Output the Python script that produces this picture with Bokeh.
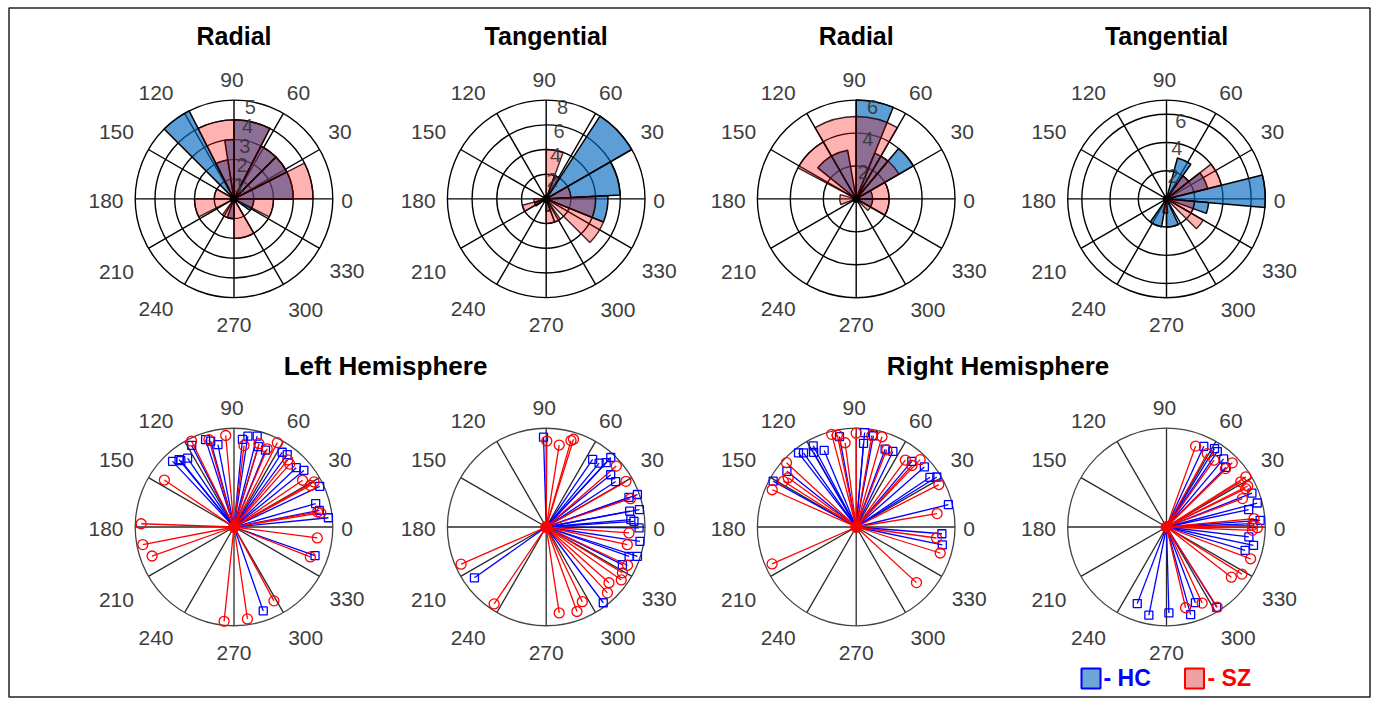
import numpy as np
from bokeh.plotting import figure
from bokeh.models import Range1d
from bokeh.embed import file_html
from bokeh.resources import INLINE
from bokeh.core.properties import value

# ---------------- data ----------------
top_titles = ["Radial", "Tangential", "Radial", "Tangential"]
bottom_titles = ["Left Hemisphere", "Right Hemisphere"]
spoke_angles = [0, 30, 60, 90, 120, 150, 180, 210, 240, 270, 300, 330]
angle_labels = [str(a) for a in spoke_angles]

# top row: rose histograms (bin start deg, bin end deg, count)
p1_rmax, p1_ticks = 5, [1, 2, 3, 4, 5]
p1_hc_lo = [117, 99, 90, 63, 45, 27, 0, 324, 250]
p1_hc_hi = [135, 117, 99, 90, 63, 45, 27, 360, 270]
p1_hc_n = [5, 2, 3, 4, 3, 3, 3, 1, 1]
p1_sz_lo = [0, 27, 45, 63, 90, 150, 180, 234, 270, 333]
p1_sz_hi = [27, 45, 63, 90, 117, 180, 207, 270, 300, 360]
p1_sz_n = [4, 3, 3, 4, 4, 1, 2, 1, 2, 2]

p2_rmax, p2_ticks = 8, [2, 4, 6, 8]
p2_hc_lo = [30, 3, -22, 57, 200, 270]
p2_hc_hi = [57, 30, 3, 70, 215, 290]
p2_hc_n = [8, 6, 5, 2, 1, 1]
p2_sz_lo = [3, -22, -45, 70, 57, 195, 180, 270, 290]
p2_sz_hi = [30, 3, -22, 90, 70, 210, 195, 290, 305]
p2_sz_n = [2, 4, 5, 4, 2, 2, 1, 2, 2]

p3_rmax, p3_ticks = 6, [2, 4, 6]
p3_hc_lo = [68, 30, 50, 100, 0, -30]
p3_hc_hi = [90, 50, 68, 141, 30, 0]
p3_hc_n = [6, 4, 3, 3, 1, 1]
p3_sz_lo = [60, 90, 120, 30, 50, 0, -29, 165, -45]
p3_sz_hi = [90, 120, 152, 50, 60, 30, 0, 200, -29]
p3_sz_n = [5, 5, 4, 3, 3, 2, 2, 1, 1]

p4_rmax, p4_ticks = 7, [2, 4, 6]
p4_hc_lo = [-5, -20, 55, 235, 270, 14, 38]
p4_hc_hi = [14, -5, 75, 260, 295, 38, 55]
p4_hc_n = [7, 3, 3, 2, 2, 3, 2]
p4_sz_lo = [14, 38, -45, -30, 255]
p4_sz_hi = [38, 55, -30, -5, 275]
p4_sz_n = [4, 2, 3, 2, 1]

# bottom row: individual vectors (angle deg, normalised magnitude)
p5_hc_ang = [133.1, 129.2, 128.7, 124, 117.4, 108, 105.2, 101, 84.5, 81.3, 75.7, 73.1, 67.7, 57.2,
             53.7, 43.6, 39, 25.4, 16, 11, 5.6, 340.5, 289.2]
p5_hc_mag = [0.91, 0.88, 0.86, 0.84, 0.93, 0.93, 0.90, 0.85, 0.89, 0.93, 0.95, 0.85, 0.84, 0.90,
             0.91, 0.87, 0.91, 0.96, 0.86, 0.88, 0.96, 0.87, 0.90]
p5_sz_ang = [146, 116.3, 106, 95.2, 83, 73.3, 67, 62.8, 51.3, 48.5, 34.3, 28.5, 29.4, 10.2, 352.5,
             338.6, 178, 190.9, 199.5, 298.4, 278.3, 264, 9.2]
p5_sz_mag = [0.85, 0.97, 0.92, 0.93, 0.83, 0.88, 0.86, 0.96, 0.87, 0.85, 0.84, 0.88, 0.93, 0.86, 0.85,
             0.83, 0.94, 0.94, 0.88, 0.85, 0.94, 0.96, 0.89]

p6_hc_ang = [91.7, 55.5, 50.4, 47, 47.1, 39, 33.2, 19.7, 19.6, 10.7, 10.6, 5, 359.4, 351.3, 340.5,
             342.2, 333.7, 307, 215.3, 3.7]
p6_hc_mag = [0.91, 0.83, 0.84, 0.89, 0.96, 0.84, 0.84, 0.89, 0.98, 0.86, 0.96, 0.86, 0.94, 0.96, 0.89,
             0.97, 0.86, 0.96, 0.89, 0.89]
p6_sz_ang = [89.6, 81, 74, 72.7, 41, 29.8, 18.6, 355.9, 334.8, 324.8, 318.4, 312.9, 295.8, 290,
             278.6, 235.9, 203.6, 329, 347.7]
p6_sz_mag = [0.87, 0.84, 0.91, 0.93, 0.94, 0.93, 0.90, 0.84, 0.91, 0.93, 0.85, 0.91, 0.84, 0.91,
             0.88, 0.94, 0.94, 0.90, 0.84]

p7_hc_ang = [151.1, 141.2, 127.9, 125.4, 117.9, 119.7, 112.7, 100.5, 84.9, 85, 79.3, 69.6, 64.1,
             49.7, 41.4, 34, 31.8, 13.6, 355.5, 348.3]
p7_hc_mag = [0.96, 0.90, 0.95, 0.92, 0.93, 0.87, 0.84, 0.93, 0.96, 0.85, 0.94, 0.84, 0.85,
             0.87, 0.92, 0.90, 0.96, 0.96, 0.87, 0.89]
p7_sz_ang = [156.1, 147.9, 137.3, 144.1, 104.8, 101.6, 97.5, 90, 80.3, 74.1, 68.4, 53.7, 46.5,
             47.8, 27.2, 9.4, 352.2, 342.8, 317.3, 203.7]
p7_sz_mag = [0.93, 0.87, 0.96, 0.85, 0.97, 0.95, 0.86, 0.95, 0.94, 0.95, 0.84, 0.84, 0.94,
             0.84, 0.94, 0.83, 0.82, 0.89, 0.83, 0.93]

p8_hc_ang = [65.2, 58.5, 56, 50, 45.2, 21.6, 14.8, 11.9, 4.1, 2.2, 353.1, 348.1, 343.5, 302,
             290.9, 285.4, 271.6, 258.7, 249.1]
p8_hc_mag = [0.90, 0.93, 0.92, 0.90, 0.85, 0.93, 0.95, 0.85, 0.95, 0.88, 0.84, 0.90, 0.83, 0.96,
             0.82, 0.92, 0.87, 0.91, 0.83]
p8_sz_ang = [70.2, 61, 54.6, 44.7, 44.3, 32.3, 31.3, 26.8, 20.5, 1.1, 359.6, 339.3, 322.3, 328,
             302.3, 295.1, 283.3, 25.9, 5.5, 357.8]
p8_sz_mag = [0.87, 0.85, 0.83, 0.84, 0.93, 0.95, 0.88, 0.92, 0.82, 0.87, 0.92, 0.91, 0.83, 0.90,
             0.96, 0.85, 0.84, 0.89, 0.89, 0.87]

legend_labels = ["- HC", "- SZ"]

# ---------------- layout / style ----------------
W, H = 1378, 703
CX = [233.5, 545.7, 855.7, 1166.0]
CY_TOP, CY_BOT = 198.4, 526.5
R = 98.8
FONT = value("Liberation Sans")
HC_FILL, HC_ALPHA = "#0068BE", 0.64
SZ_FILL, SZ_ALPHA = "#FF0000", 0.30
# text centre offsets of the angle labels (page pixels, y downwards)
LABEL_DX = [113, 106, 64.5, -2, -78, -117.6, -128, -117.6, -78, 0, 71.7, 113]
LABEL_DY = [2, -67, -106, -119, -106, -67, 2, 73, 110.5, 126, 111, 72]


def X(px):
    return px


def Y(py):
    return H - py


p = figure(width=W, height=H, x_range=Range1d(0, W), y_range=Range1d(0, H),
           output_backend="svg", toolbar_location=None, min_border=0,
           x_axis_location=None, y_axis_location=None)
p.grid.visible = False
p.outline_line_color = None
p.background_fill_color = "white"
p.border_fill_color = "white"

# frame around the whole picture
p.quad(left=[X(8.5)], right=[X(1369.5)], top=[Y(7.5)], bottom=[Y(696.5)],
       fill_color=None, line_color="#222222", line_width=1.5)

rad = np.deg2rad(spoke_angles)


def draw_grid(cx, cy, rings, color, width):
    x0 = [cx] * len(rad)
    y0 = [cy] * len(rad)
    p.segment(x0=x0, y0=y0, x1=list(cx + R * np.cos(rad)), y1=list(cy + R * np.sin(rad)),
              line_color=color, line_width=width)
    p.circle(x=[cx] * len(rings), y=[cy] * len(rings), radius=rings,
             fill_color=None, line_color=color, line_width=width)


def draw_angle_labels(cx, cy):
    xs = [cx + dx for dx in LABEL_DX]
    ys = [cy - dy for dy in LABEL_DY]
    p.text(x=xs, y=ys, text=angle_labels, text_font=FONT, text_font_size="21px",
           text_align="center", text_baseline="middle", text_color="#3d3d3d")


top_data = [
    (p1_rmax, p1_ticks, p1_hc_lo, p1_hc_hi, p1_hc_n, p1_sz_lo, p1_sz_hi, p1_sz_n),
    (p2_rmax, p2_ticks, p2_hc_lo, p2_hc_hi, p2_hc_n, p2_sz_lo, p2_sz_hi, p2_sz_n),
    (p3_rmax, p3_ticks, p3_hc_lo, p3_hc_hi, p3_hc_n, p3_sz_lo, p3_sz_hi, p3_sz_n),
    (p4_rmax, p4_ticks, p4_hc_lo, p4_hc_hi, p4_hc_n, p4_sz_lo, p4_sz_hi, p4_sz_n),
]

for i, (rmax, ticks, hlo, hhi, hn, slo, shi, sn) in enumerate(top_data):
    cx, cy = X(CX[i]), Y(CY_TOP)
    scale = R / rmax
    rings = [t * scale for t in ticks]
    if ticks[-1] != rmax:
        rings.append(R)
    draw_grid(cx, cy, rings, "black", 1.4)
    p.wedge(x=[cx] * len(hn), y=[cy] * len(hn), radius=[n * scale for n in hn],
            start_angle=hlo, end_angle=hhi, start_angle_units="deg", end_angle_units="deg",
            fill_color=HC_FILL, fill_alpha=HC_ALPHA, line_color="black", line_width=1.5)
    p.wedge(x=[cx] * len(sn), y=[cy] * len(sn), radius=[n * scale for n in sn],
            start_angle=slo, end_angle=shi, start_angle_units="deg", end_angle_units="deg",
            fill_color=SZ_FILL, fill_alpha=SZ_ALPHA, line_color="#200000", line_alpha=0.85,
            line_width=1.4)
    p.circle(x=[cx], y=[cy], radius=3.5, fill_color="black", line_color="black")
    a82 = np.deg2rad(82)
    p.text(x=[cx + r * np.cos(a82) - 3 for r in [t * scale for t in ticks]],
           y=[cy + r * np.sin(a82) - 5.5 for r in [t * scale for t in ticks]],
           text=[str(t) for t in ticks], text_font=FONT, text_font_size="20px",
           text_align="left", text_baseline="middle", text_color="#333333", text_alpha=0.9)
    draw_angle_labels(cx, cy)
    p.text(x=[cx], y=[Y(35.5)], text=[top_titles[i]], text_font=FONT, text_font_size="25px",
           text_font_style="bold", text_align="center", text_baseline="middle", text_color="black")

bottom_data = [
    (p5_hc_ang, p5_hc_mag, p5_sz_ang, p5_sz_mag),
    (p6_hc_ang, p6_hc_mag, p6_sz_ang, p6_sz_mag),
    (p7_hc_ang, p7_hc_mag, p7_sz_ang, p7_sz_mag),
    (p8_hc_ang, p8_hc_mag, p8_sz_ang, p8_sz_mag),
]

for i, (ha, hm, sa, sm) in enumerate(bottom_data):
    cx, cy = X(CX[i]), Y(CY_BOT)
    x0 = [cx] * len(rad)
    y0 = [cy] * len(rad)
    p.segment(x0=x0, y0=y0, x1=list(cx + R * np.cos(rad)), y1=list(cy + R * np.sin(rad)),
              line_color="#2a2a2a", line_width=1.3)
    p.circle(x=[cx], y=[cy], radius=R, fill_color=None, line_color="#444444", line_width=1.3)
    hr = np.deg2rad(ha)
    sr = np.deg2rad(sa)
    hx = list(cx + np.array(hm) * R * np.cos(hr))
    hy = list(cy + np.array(hm) * R * np.sin(hr))
    sx = list(cx + np.array(sm) * R * np.cos(sr))
    sy = list(cy + np.array(sm) * R * np.sin(sr))
    p.segment(x0=[cx] * len(hx), y0=[cy] * len(hx), x1=hx, y1=hy, line_color="#0000FF", line_width=1.3)
    p.segment(x0=[cx] * len(sx), y0=[cy] * len(sx), x1=sx, y1=sy, line_color="#FF0000", line_width=1.3)
    p.scatter(x=hx, y=hy, marker="square", size=8, fill_color=None, line_color="#0000FF", line_width=1.3)
    p.scatter(x=sx, y=sy, marker="circle", size=10, fill_color=None, line_color="#FF0000", line_width=1.3)
    p.circle(x=[cx], y=[cy], radius=5.5, fill_color="#FF0000", line_color="#FF0000")
    draw_angle_labels(cx, cy)

p.text(x=[X(385), X(997.5)], y=[Y(365), Y(365)], text=bottom_titles, text_font=FONT,
       text_font_size="26px", text_font_style="bold", text_align="center",
       text_baseline="middle", text_color="black")

# legend
p.rect(x=[X(1090.5)], y=[Y(678)], width=19, height=20, fill_color="#6FA6DA",
       line_color="#0000FF", line_width=2)
p.rect(x=[X(1194)], y=[Y(678)], width=19, height=20, fill_color="#F0A0A0",
       line_color="#FF0000", line_width=2)
p.text(x=[X(1103)], y=[Y(677)], text=[legend_labels[0]], text_font=FONT, text_font_size="23px",
       text_font_style="bold", text_align="left", text_baseline="middle", text_color="#0000FF")
p.text(x=[X(1207)], y=[Y(677)], text=[legend_labels[1]], text_font=FONT, text_font_size="23px",
       text_font_style="bold", text_align="left", text_baseline="middle", text_color="#FF0000")

open("out.html", "w").write(file_html(p, INLINE))
